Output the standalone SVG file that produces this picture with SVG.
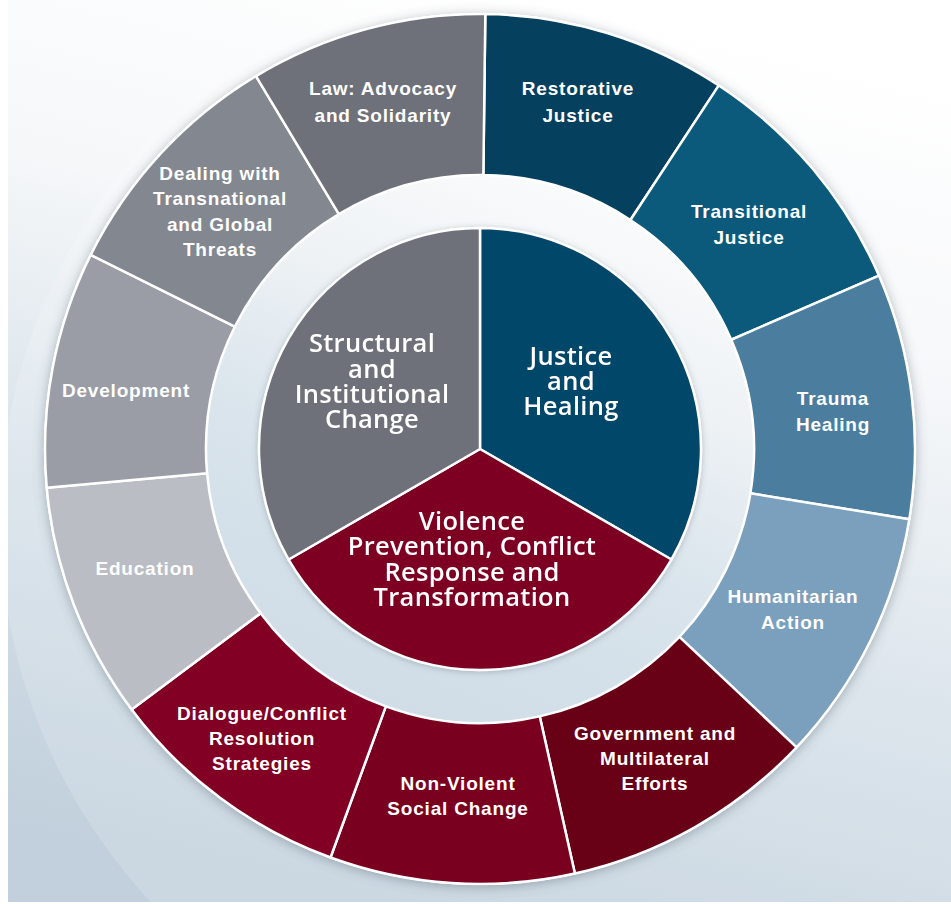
<svg xmlns="http://www.w3.org/2000/svg" width="951" height="904" viewBox="0 0 951 904">
<defs>
<linearGradient id="bg" x1="0.6" y1="0" x2="0.35" y2="1">
<stop offset="0" stop-color="#ffffff"/>
<stop offset="0.3" stop-color="#f5f7f9"/>
<stop offset="0.65" stop-color="#d6e1e9"/>
<stop offset="1" stop-color="#c1d0dc"/>
</linearGradient>
<linearGradient id="band" x1="0.7" y1="0" x2="0.3" y2="1">
<stop offset="0" stop-color="#fbfcfc"/>
<stop offset="0.3" stop-color="#eef2f5"/>
<stop offset="0.6" stop-color="#d9e4ec"/>
<stop offset="1" stop-color="#cfdce6"/>
</linearGradient>
<clipPath id="bgclip"><rect x="8" y="0" width="943" height="902"/></clipPath>
<filter id="shadow" x="-10%" y="-10%" width="120%" height="120%">
<feDropShadow dx="0" dy="2" stdDeviation="6" flood-color="#4d5d6b" flood-opacity="0.45"/>
</filter>
<filter id="soft" x="-10%" y="-10%" width="120%" height="120%">
<feDropShadow dx="0" dy="1" stdDeviation="3" flood-color="#4d5d6b" flood-opacity="0.35"/>
</filter>
</defs>
<style>
.seg{stroke:#ffffff;stroke-width:2.5;stroke-linejoin:round}
.lbl{font-family:"Liberation Sans",Arial,sans-serif;font-weight:bold;font-size:19px;letter-spacing:0.8px;fill:#ffffff;text-anchor:middle}
.core{font-family:"Open Sans","Liberation Sans",sans-serif;font-weight:600;font-size:25.5px;letter-spacing:0.3px;fill:#ffffff;text-anchor:middle}
</style>
<rect x="0" y="0" width="951" height="904" fill="#ffffff"/>
<rect x="8" y="0" width="943" height="902" fill="url(#bg)"/>
<circle cx="560" cy="520" r="560" fill="#ffffff" fill-opacity="0.16" clip-path="url(#bgclip)"/>
<circle cx="480" cy="449" r="436" fill="#ffffff" filter="url(#shadow)"/>
<circle cx="480" cy="449" r="274" fill="url(#band)"/>
<g id="ring">
<g id="restorative"><path class="seg" fill="#05415f" d="M485.32,14.03 A435,435 0 0 1 718.82,85.42 L630.43,219.99 A274,274 0 0 0 483.35,175.02 Z"/>
<text class="lbl" x="578" y="95">Restorative</text><text class="lbl" x="578" y="122">Justice</text></g>
<g id="transitional"><path class="seg" fill="#0b5a7c" d="M718.82,85.42 A435,435 0 0 1 878.92,275.54 L731.27,339.74 A274,274 0 0 0 630.43,219.99 Z"/>
<text class="lbl" x="749" y="218">Transitional</text><text class="lbl" x="749" y="244">Justice</text></g>
<g id="trauma"><path class="seg" fill="#4a7d9e" d="M878.92,275.54 A435,435 0 0 1 909.28,519.30 L750.40,493.28 A274,274 0 0 0 731.27,339.74 Z"/>
<text class="lbl" x="833" y="405">Trauma</text><text class="lbl" x="833" y="431">Healing</text></g>
<g id="humanitarian"><path class="seg" fill="#7aa0bd" d="M909.28,519.30 A435,435 0 0 1 796.58,747.33 L679.41,636.91 A274,274 0 0 0 750.40,493.28 Z"/>
<text class="lbl" x="793" y="603">Humanitarian</text><text class="lbl" x="793" y="629">Action</text></g>
<g id="government"><path class="seg" fill="#680016" d="M796.58,747.33 A435,435 0 0 1 574.89,873.53 L539.77,716.40 A274,274 0 0 0 679.41,636.91 Z"/>
<text class="lbl" x="655" y="740">Government and</text><text class="lbl" x="655" y="765">Multilateral</text><text class="lbl" x="655" y="790">Efforts</text></g>
<g id="nonviolent"><path class="seg" fill="#7a0020" d="M574.89,873.53 A435,435 0 0 1 330.51,857.50 L385.84,706.31 A274,274 0 0 0 539.77,716.40 Z"/>
<text class="lbl" x="458" y="790">Non-Violent</text><text class="lbl" x="458" y="815">Social Change</text></g>
<g id="dialogue"><path class="seg" fill="#820024" d="M330.51,857.50 A435,435 0 0 1 131.68,709.57 L260.60,613.13 A274,274 0 0 0 385.84,706.31 Z"/>
<text class="lbl" x="262" y="720">Dialogue/Conflict</text><text class="lbl" x="262" y="745">Resolution</text><text class="lbl" x="262" y="770">Strategies</text></g>
<g id="education"><path class="seg" fill="#babdc3" d="M131.68,709.57 A435,435 0 0 1 46.72,487.67 L207.09,473.36 A274,274 0 0 0 260.60,613.13 Z"/>
<text class="lbl" x="145" y="575">Education</text></g>
<g id="development"><path class="seg" fill="#9a9da5" d="M46.72,487.67 A435,435 0 0 1 90.71,254.90 L234.79,326.74 A274,274 0 0 0 207.09,473.36 Z"/>
<text class="lbl" x="126" y="397">Development</text></g>
<g id="dealing"><path class="seg" fill="#83878f" d="M90.71,254.90 A435,435 0 0 1 255.96,76.13 L338.88,214.14 A274,274 0 0 0 234.79,326.74 Z"/>
<text class="lbl" x="220" y="180">Dealing with</text><text class="lbl" x="220" y="205">Transnational</text><text class="lbl" x="220" y="231">and Global</text><text class="lbl" x="220" y="256">Threats</text></g>
<g id="law"><path class="seg" fill="#6e7179" d="M255.96,76.13 A435,435 0 0 1 485.32,14.03 L483.35,175.02 A274,274 0 0 0 338.88,214.14 Z"/>
<text class="lbl" x="383" y="95">Law: Advocacy</text><text class="lbl" x="383" y="122">and Solidarity</text></g>
</g>
<g id="core" filter="url(#soft)">
<g id="justice-healing"><path class="seg" fill="#05466a" d="M480,449 L480,228 A221,221 0 0 1 671.39,559.5 Z"/>
<text class="core" x="571" y="365">Justice</text><text class="core" x="571" y="390">and</text><text class="core" x="571" y="415">Healing</text></g>
<g id="violence-prevention"><path class="seg" fill="#7d0022" d="M480,449 L671.39,559.5 A221,221 0 0 1 288.61,559.5 Z"/>
<text class="core" x="472" y="530">Violence</text><text class="core" x="472" y="555">Prevention, Conflict</text><text class="core" x="472" y="581">Response and</text><text class="core" x="472" y="606">Transformation</text></g>
<g id="structural-change"><path class="seg" fill="#6e717a" d="M480,449 L288.61,559.5 A221,221 0 0 1 480,228 Z"/>
<text class="core" x="372" y="352">Structural</text><text class="core" x="372" y="378">and</text><text class="core" x="372" y="403">Institutional</text><text class="core" x="372" y="428">Change</text></g>
</g>
</svg>
